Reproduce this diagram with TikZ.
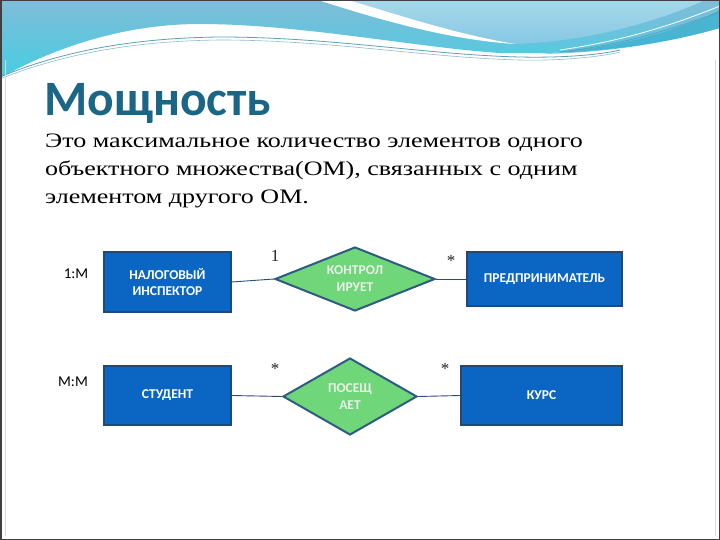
\documentclass[tikz,border=0pt]{standalone}
\usepackage{fontspec}
\usetikzlibrary{shapes.geometric}
\setmainfont{Liberation Serif}
\newfontfamily\calf{Carlito}
\newfontfamily\bodyf[FakeStretch=1.27]{Liberation Serif}
\definecolor{titlec}{HTML}{1B6585}
\definecolor{boxfill}{HTML}{0B66C3}
\definecolor{boxline}{HTML}{1F4A78}
\definecolor{relfill}{HTML}{6FD67A}
\definecolor{relline}{HTML}{2E5C80}
\definecolor{conn}{HTML}{2C4F78}
\definecolor{reltxt}{HTML}{E8F0E8}
\definecolor{wavetop}{HTML}{80BCD8}
\definecolor{wavebot}{HTML}{45CEE2}
\definecolor{lighttop}{HTML}{A6D8EA}
\definecolor{lightbot}{HTML}{86C8E4}
\definecolor{streak}{HTML}{3AAFCF}
\definecolor{thinl}{HTML}{5E9FB8}
\tikzset{
  entity/.style={draw=boxline, line width=1.5pt, fill=boxfill, inner sep=0pt, rectangle,
    text=white, font=\calf\bfseries\fontsize{13.5}{16}\selectfont, align=center},
  rel/.style={draw=relline, line width=2pt, fill=relfill, shape=diamond, inner sep=0pt},
  reltext/.style={text=reltxt, font=\calf\bfseries\fontsize{13.5}{17}\selectfont, align=center, inner sep=0pt},
  conline/.style={draw=conn, line width=0.9pt},
  card/.style={font=\fontsize{17}{17}\selectfont, inner sep=0pt, text=black!85},
  ratio/.style={font=\calf\fontsize{15}{15}\selectfont, inner sep=0pt},
  bodyline/.style={anchor=base west, inner sep=0pt, font=\bodyf\fontsize{20.5}{24}\selectfont}
}
\begin{document}
\begin{tikzpicture}[x=1pt,y=-1pt]
\useasboundingbox (0,0) rectangle (720,540);
\fill[white] (0,0) rectangle (720,540);
% background wave
\shade[top color=wavetop, bottom color=wavebot]
  (0,0) -- (720,0) -- (720,28) .. controls (660,45) and (590,55) .. (500,53)
  .. controls (420,48) and (300,24) .. (200,24)
  .. controls (120,24) and (50,50) .. (0,78) -- cycle;
\shade[top color=lighttop, bottom color=lightbot]
  (345,0) -- (705,0) .. controls (650,25) and (580,42) .. (515,44)
  .. controls (450,35) and (390,15) .. (345,0) -- cycle;
\fill[white] (318,0) .. controls (380,20) and (450,40) .. (515,44)
  .. controls (450,33) and (390,12) .. (348,0) -- cycle;
\fill[streak, opacity=0.7] (540,54) .. controls (620,48) and (680,30) .. (720,10) -- (720,28)
  .. controls (660,45) and (600,53) .. (540,54) -- cycle;
\draw[white, line width=0.8pt] (560,50) .. controls (630,40) and (680,22) .. (720,6);
\draw[thinl, line width=0.7pt] (560,52) .. controls (630,44) and (680,26) .. (720,12);
\draw[thinl, line width=0.8pt] (0,77) .. controls (60,52) and (130,38) .. (220,37)
  .. controls (330,37) and (430,55) .. (520,57) .. controls (560,58) and (600,55) .. (620,50);
\draw[thinl!70, line width=0.6pt] (0,79) .. controls (60,55) and (130,41) .. (220,40)
  .. controls (330,40) and (430,58) .. (520,60) .. controls (560,61) and (600,57) .. (620,52);
% frame
\draw[black!75, line width=1.5pt] (0.75,0.75) rectangle (719.25,539.25);
\draw[black!15, line width=0.6pt] (5,60) -- (5,536);
\draw[black!15, line width=0.6pt] (715,60) -- (715,536);
% title and text
\node[anchor=base west, inner sep=0pt, text=titlec, font=\calf\bfseries\fontsize{49.5}{52}\selectfont] (title) at (44,116) {Мощность};
\node[bodyline] (l1) at (45,148) {Это максимальное количество элементов одного};
\node[bodyline] (l2) at (45,176) {объектного множества(ОМ), связанных с одним};
\node[bodyline] (l3) at (45,204) {элементом другого ОМ.};
% diagram
\node[entity, minimum width=127pt, minimum height=60pt] (nal) at (167.5,282) {НАЛОГОВЫЙ\\ИНСПЕКТОР};
\node[entity, minimum width=127pt, minimum height=59pt] (stud) at (167.5,395.5) {СТУДЕНТ};
\node[entity, minimum width=155pt, minimum height=54pt] (pred) at (544.5,279) {ПРЕДПРИНИМАТЕЛЬ};
\node[entity, minimum width=161pt, minimum height=59pt] (kurs) at (541.5,395.5) {КУРС};
\node[rel, minimum width=160pt, minimum height=64pt] (d1) at (355,279) {};
\node[reltext] (d1t) at (d1) {КОНТРОЛ\\ИРУЕТ};
\node[rel, minimum width=134pt, minimum height=77pt] (d2) at (350,396.5) {};
\node[reltext] (d2t) at (d2) {ПОСЕЩ\\АЕТ};
\draw[conline] (nal.east) -- (d1.west);
\draw[conline] (d1.east) -- (pred.west);
\draw[conline] (stud.east) -- (d2.west);
\draw[conline] (d2.east) -- (kurs.west);
% cardinalities
\node[card] (c1) at (275,256) {1};
\node[card] (c2) at (451,261) {*};
\node[card] (c3) at (275,369) {*};
\node[card] (c4) at (445,369) {*};
\node[ratio] (r1) at (76,274) {1:M};
\node[ratio] (r2) at (73,382) {M:M};
\end{tikzpicture}
\end{document}
